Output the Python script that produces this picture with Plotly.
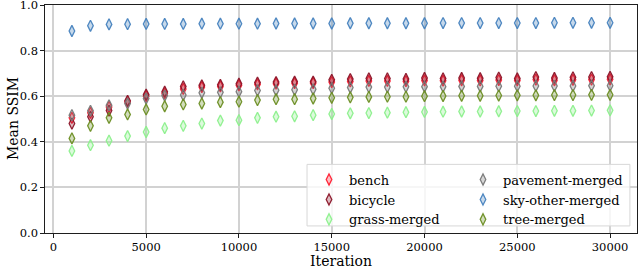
import plotly.graph_objects as go

iterations = list(range(1000, 30001, 1000))

bench = [0.505, 0.527, 0.553, 0.575, 0.600, 0.612, 0.632, 0.640, 0.643, 0.648,
         0.652, 0.655, 0.657, 0.658, 0.662, 0.665, 0.667, 0.667, 0.666, 0.669,
         0.668, 0.670, 0.669, 0.671, 0.669, 0.673, 0.670, 0.672, 0.673, 0.674]
bicycle = [0.480, 0.510, 0.537, 0.580, 0.607, 0.620, 0.643, 0.648, 0.650, 0.655,
           0.660, 0.662, 0.664, 0.664, 0.672, 0.675, 0.678, 0.678, 0.676, 0.680,
           0.678, 0.680, 0.679, 0.682, 0.678, 0.684, 0.680, 0.683, 0.684, 0.685]
grass_merged = [0.360, 0.385, 0.405, 0.425, 0.443, 0.460, 0.470, 0.480, 0.493, 0.495,
                0.505, 0.510, 0.512, 0.517, 0.522, 0.525, 0.526, 0.528, 0.530, 0.531,
                0.532, 0.533, 0.533, 0.534, 0.535, 0.535, 0.536, 0.536, 0.537, 0.538]
pavement_merged = [0.517, 0.536, 0.560, 0.568, 0.590, 0.603, 0.605, 0.615, 0.617, 0.620,
                   0.625, 0.626, 0.628, 0.630, 0.635, 0.638, 0.640, 0.640, 0.641, 0.642,
                   0.642, 0.643, 0.643, 0.644, 0.644, 0.645, 0.645, 0.645, 0.646, 0.646]
sky_other_merged = [0.886, 0.909, 0.915, 0.916, 0.917, 0.917, 0.917, 0.918, 0.918, 0.918,
                    0.918, 0.919, 0.919, 0.919, 0.919, 0.920, 0.920, 0.920, 0.920, 0.920,
                    0.921, 0.921, 0.921, 0.921, 0.921, 0.921, 0.922, 0.922, 0.922, 0.922]
tree_merged = [0.415, 0.470, 0.505, 0.520, 0.542, 0.556, 0.564, 0.568, 0.574, 0.576,
               0.583, 0.587, 0.587, 0.590, 0.593, 0.595, 0.597, 0.598, 0.598, 0.600,
               0.601, 0.602, 0.602, 0.603, 0.604, 0.604, 0.605, 0.605, 0.606, 0.606]

x_ticks = [0, 5000, 10000, 15000, 20000, 25000, 30000]
y_ticks = [0.0, 0.2, 0.4, 0.6, 0.8, 1.0]

series = [
    ("bench", bench, (255, 30, 50), "legend"),
    ("bicycle", bicycle, (139, 20, 40), "legend"),
    ("grass-merged", grass_merged, (140, 240, 140), "legend"),
    ("pavement-merged", pavement_merged, (120, 120, 120), "legend2"),
    ("sky-other-merged", sky_other_merged, (70, 130, 190), "legend2"),
    ("tree-merged", tree_merged, (107, 142, 35), "legend2"),
]

FONT = "DejaVu Serif"
fig = go.Figure()
for name, vals, (r, g, b), lg in series:
    fig.add_trace(go.Scatter(
        x=iterations, y=vals, mode="markers", name=name, legend=lg,
        marker=dict(symbol="diamond-tall", size=8,
                    color=f"rgba({r},{g},{b},0.3)",
                    line=dict(color=f"rgba({r},{g},{b},0.95)", width=1.3)),
    ))

fig.add_shape(type="rect", xref="paper", yref="paper",
              x0=0.4426, x1=0.988, y0=0.031, y1=0.301,
              line=dict(color="rgb(215,215,215)", width=1),
              fillcolor="rgba(255,255,255,0.8)", layer="above")

# axis titles as annotations for precise placement
fig.add_annotation(text="Iteration", xref="paper", yref="paper", x=0.5, y=-0.124,
                   xanchor="center", yanchor="middle", showarrow=False,
                   font=dict(family=FONT, size=14, color="black"))
fig.add_annotation(text="Mean SSIM", xref="paper", yref="paper", x=-0.054, y=0.5,
                   xanchor="center", yanchor="middle", showarrow=False, textangle=-90,
                   font=dict(family=FONT, size=14, color="black"))

legend_common = dict(font=dict(family=FONT, size=13, color="black"),
                     bgcolor="rgba(0,0,0,0)", borderwidth=0,
                     xanchor="left", yanchor="top", xref="paper", yref="paper",
                     tracegroupgap=0, itemwidth=30)
fig.update_layout(
    width=640, height=269,
    margin=dict(l=45, r=3, t=5, b=36, autoexpand=False),
    paper_bgcolor="white", plot_bgcolor="white",
    font=dict(family=FONT, size=11.5, color="black"),
    showlegend=True,
    legend=dict(x=(309 - 45) / 592, y=0.30, **legend_common),
    legend2=dict(x=(463 - 45) / 592, y=0.30, **legend_common),
    xaxis=dict(range=[-450, 31450], tickvals=x_ticks, ticktext=[str(v) for v in x_ticks],
               automargin=False, ticklabeloverflow="allow",
               showgrid=True, gridcolor="rgb(210,210,210)", gridwidth=1.5,
               showline=True, linecolor="rgb(30,30,30)", linewidth=1.3, mirror=True,
               ticks="outside", ticklen=3.5, tickcolor="rgb(30,30,30)", zeroline=False,
               tickfont=dict(family=FONT, size=11.5)),
    yaxis=dict(range=[0, 1.0001], tickvals=y_ticks, ticktext=[f"{v:.1f}" for v in y_ticks],
               automargin=False, ticklabeloverflow="allow",
               showgrid=True, gridcolor="rgb(210,210,210)", gridwidth=1.5,
               showline=True, linecolor="rgb(30,30,30)", linewidth=1.3, mirror=True,
               ticks="outside", ticklen=3.5, tickcolor="rgb(30,30,30)", zeroline=False,
               tickfont=dict(family=FONT, size=11.5)),
)

fig.write_html("out.html", config={"displayModeBar": False},
               post_script="document.body.style.margin='0';document.body.style.padding='0';")
